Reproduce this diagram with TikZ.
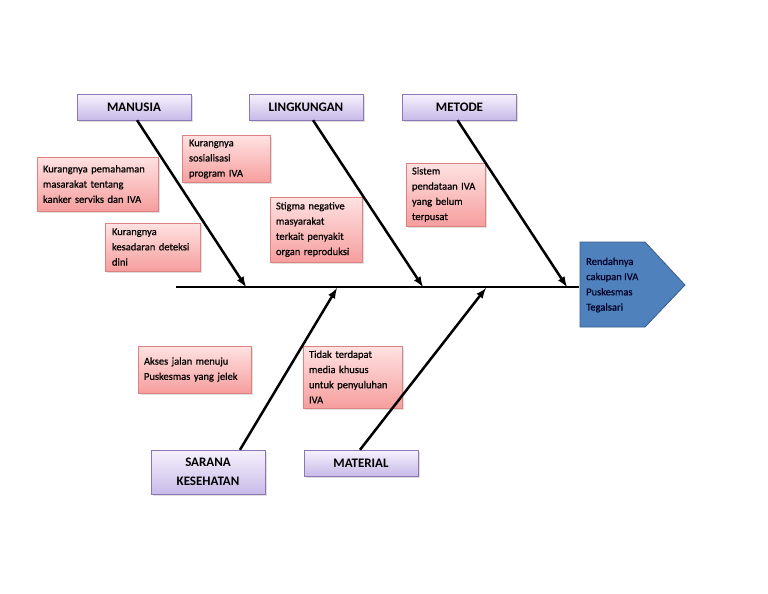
\documentclass[tikz,border=0pt]{standalone}
\usepackage{fontspec}
\setmainfont{Carlito}
\newfontfamily\causefont[FakeBold=0.6]{Carlito}
\usetikzlibrary{shadows}
\definecolor{pinktop}{RGB}{255,226,226}
\definecolor{pinkbot}{RGB}{246,158,158}
\definecolor{pinkline}{RGB}{222,130,128}
\definecolor{liltop}{RGB}{246,242,253}
\definecolor{lilbot}{RGB}{200,186,232}
\definecolor{lilline}{RGB}{140,118,180}
\definecolor{headfill}{RGB}{79,129,189}
\definecolor{headline}{RGB}{56,93,138}

\begin{document}
\begin{tikzpicture}[x=1pt,y=1pt]
\tikzstyle{every node}+=[inner sep=0pt]
\tikzstyle{cause}=[draw=pinkline, top color=pinktop, bottom color=pinkbot, drop shadow={opacity=0.25,shadow xshift=1.5pt,shadow yshift=-1.5pt}, align=left, font=\causefont\fontsize{10.5}{15.2}\selectfont]
\tikzstyle{category}=[draw=lilline, top color=liltop, bottom color=lilbot, drop shadow={opacity=0.25,shadow xshift=1.5pt,shadow yshift=-1.5pt}, align=center, font=\fontsize{13}{19}\selectfont\bfseries, minimum width=114pt]
\tikzstyle{bone}=[line width=2.5pt, ->, >=latex]
\useasboundingbox (0,0) rectangle (768,-594);

\draw [draw=headline, fill=headfill, line width=0.8pt] (580,-242) -- (645,-242) -- (685,-285) -- (645,-327) -- (580,-327) -- cycle;
\node (akibat) [anchor=west, align=left, font=\causefont\fontsize{10.5}{15.2}\selectfont, text=black!85!blue] at (586,-285) {Rendahnya\\cakupan IVA\\Puskesmas\\Tegalsari};
\coordinate (kepala) at (579,-287);
\coordinate (ekor) at (176,-287);
\draw [line width=2.5pt] (ekor) -- (kepala);

\node (manusia) [category, minimum height=26pt] at (134,-107) {MANUSIA};
\node (lingkungan) [category, minimum height=26pt] at (306,-107) {LINGKUNGAN};
\node (metode) [category, minimum height=26pt] at (459.5,-107) {METODE};
\node (sarana) [category, minimum height=44pt] at (208,-472) {SARANA\\KESEHATAN};
\node (material) [category, minimum height=26pt] at (361,-463) {MATERIAL};

\node (pemahaman) [cause, minimum width=121pt, minimum height=54pt, text width=109pt] at (97.5,-184) {Kurangnya pemahaman\\masarakat tentang\\kanker serviks dan IVA};
\node (sosialisasi) [cause, minimum width=88pt, minimum height=47pt, text width=74pt] at (226,-159) {Kurangnya\\sosialisasi\\program IVA};
\node (kesadaran) [cause, minimum width=95pt, minimum height=48pt, text width=81pt] at (152.5,-247) {Kurangnya\\kesadaran deteksi\\dini};
\node (stigma) [cause, minimum width=92pt, minimum height=65pt, text width=80pt] at (316,-229.5) {Stigma negative\\masyarakat\\terkait penyakit\\organ reproduksi};
\node (sistem) [cause, minimum width=79pt, minimum height=63pt, text width=67pt] at (445.5,-194.5) {Sistem\\pendataan IVA\\yang belum\\terpusat};
\node (akses) [cause, minimum width=113pt, minimum height=47pt, text width=101pt] at (194.5,-369.5) {Akses jalan menuju\\Puskesmas yang jelek};
\node (tidak) [cause, minimum width=99pt, minimum height=62pt, text width=87pt] at (352.5,-377) {Tidak terdapat\\media khusus\\untuk penyuluhan\\IVA};

\coordinate (m) at (246,-287);
\coordinate (l) at (423,-287);
\coordinate (t) at (567,-287);
\coordinate (s) at (337,-288);
\coordinate (k) at (486,-288);
\draw [bone] ([xshift=3pt]manusia.south) -- (m);
\draw [bone] ([xshift=7pt]lingkungan.south) -- (l);
\draw [bone] ([xshift=-2pt]metode.south) -- (t);
\draw [bone] ([xshift=32pt]sarana.north) -- (s);
\draw [bone] ([xshift=-1pt]material.north) -- (k);
\end{tikzpicture}
\end{document}
